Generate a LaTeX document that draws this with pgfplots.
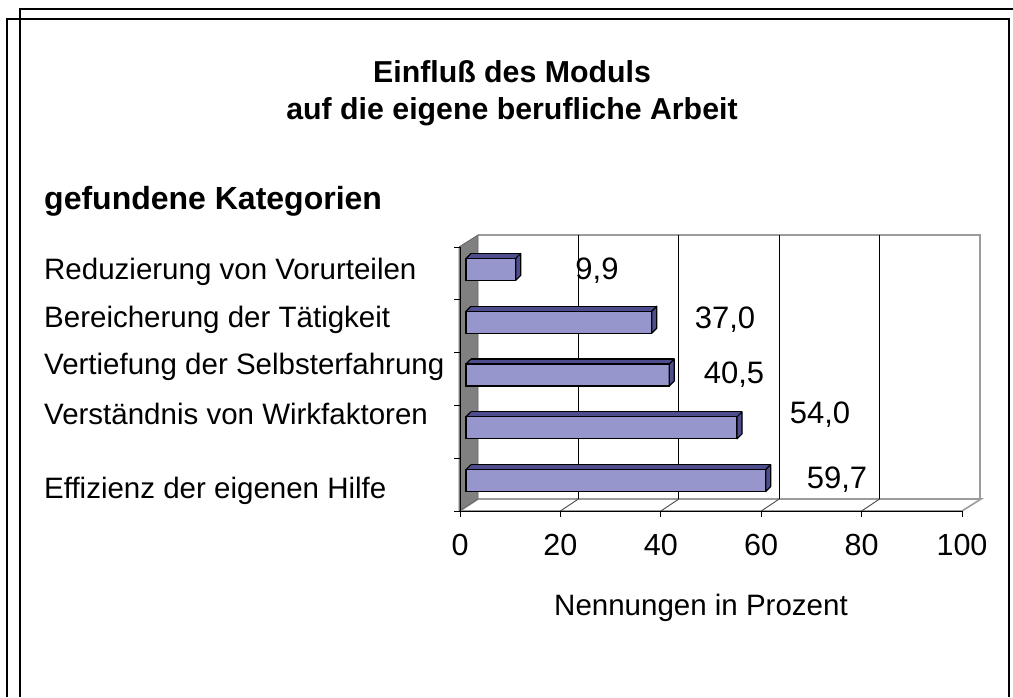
\documentclass[border=0pt]{standalone}
\usepackage{pgfplots}
\pgfplotsset{compat=1.18}
\usepackage{pgfplotstable}
\usepackage{fontspec}
\setmainfont{Liberation Sans}
\definecolor{barfront}{RGB}{150,150,204}
\definecolor{barside}{RGB}{78,78,142}
\definecolor{wallgray}{RGB}{128,128,128}
\definecolor{edgegray}{RGB}{155,155,155}
\newcommand\fa{\fontsize{29.5}{34}\selectfont}
\newcommand\fv{\fontsize{31}{36}\selectfont}

\pgfplotstableread{
idx val zero
1 59.7 0
2 54.0 0
3 40.5 0
4 37.0 0
5 9.9 0
}\bardata

\pgfdeclareplotmark{rface}{%
  \pgfpathmoveto{\pgfpoint{0pt}{-11pt}}%
  \pgfpathlineto{\pgfpoint{5pt}{-6pt}}%
  \pgfpathlineto{\pgfpoint{5pt}{16pt}}%
  \pgfpathlineto{\pgfpoint{0pt}{11pt}}%
  \pgfpathclose
  \pgfusepathqfillstroke}
\pgfdeclareplotmark{tldiag}{%
  \pgfpathmoveto{\pgfpoint{0pt}{11pt}}%
  \pgfpathlineto{\pgfpoint{5pt}{16pt}}%
  \pgfusepathqstroke}

\begin{document}
\begin{tikzpicture}
\path[use as bounding box] (0pt,0pt) rectangle (1013pt,-697pt);
\begin{scope}[x=1pt,y=-1pt]
  % outer frame
  \draw[black, line width=1.3pt] (20,697) -- (20,9) -- (1013,9);
  \draw[black, line width=1.3pt] (7,697) -- (7,19) -- (1009,19) -- (1009,697);
  % titles
  \node[anchor=base, font=\bfseries\fontsize{30.3}{36}\selectfont] at (512,82) {Einfluß des Moduls};
  \node[anchor=base, font=\bfseries\fontsize{30.3}{36}\selectfont] at (512,119) {auf die eigene berufliche Arbeit};
  \node[anchor=base west, inner sep=0pt, font=\bfseries\fontsize{32}{36}\selectfont] at (44,209) {gefundene Kategorien};
  % category labels
  \node[anchor=base west, inner sep=0pt, font=\fa] at (44,279) {Reduzierung von Vorurteilen};
  \node[anchor=base west, inner sep=0pt, font=\fa] at (44,327) {Bereicherung der Tätigkeit};
  \node[anchor=base west, inner sep=0pt, font=\fa] at (44,374) {Vertiefung der Selbsterfahrung};
  \node[anchor=base west, inner sep=0pt, font=\fa] at (44,424) {Verständnis von Wirkfaktoren};
  \node[anchor=base west, inner sep=0pt, font=\fa] at (44,498) {Effizienz der eigenen Hilfe};
  % back wall
  \fill[white] (478,235) rectangle (980,499);
  \draw[edgegray, line width=1.5pt] (478,235) -- (980,235) -- (980,499);
  % floor
  \filldraw[fill=white, draw=edgegray, line width=1.6pt] (460,511) -- (962,511) -- (981,499) -- (478,499) -- cycle;
  % left wall
  \filldraw[fill=wallgray, draw=black!60, line width=0.8pt] (459,511) -- (459,247) -- (478,235) -- (478,499) -- cycle;
  % grid lines on back wall
  \foreach \k in {1,2,3,4} {
    \draw[black, line width=1pt] ({478+100.4*\k},235) -- ({478+100.4*\k},499);
    \draw[black!70, line width=0.9pt] ({460+100.4*\k},511) -- ({478+100.4*\k},499);
  }
\end{scope}

% front plane axis: ticks and tick labels
\begin{axis}[
  at={(460pt,-511pt)}, anchor=south west,
  scale only axis, width=502pt, height=264pt,
  xmin=0, xmax=100, ymin=0.5, ymax=5.5,
  axis x line*=bottom, axis y line*=left,
  axis line style={-, line width=1pt, black},
  xtick={0,20,...,100}, ytick={0.5,1.5,...,5.5}, yticklabels={},
  tick align=outside, major tick length=6pt,
  tick style={black, line width=1pt},
  xticklabel style={font=\fontsize{30.5}{36}\selectfont, yshift=-14pt},
  /pgf/number format/assume math mode=true,
]
\end{axis}

% bar plane axis
\begin{axis}[
  at={(466pt,-507pt)}, anchor=south west,
  scale only axis, width=502pt, height=264pt,
  xmin=0, xmax=100, ymin=0.5, ymax=5.5,
  hide axis, clip=false,
]
\pgfplotsinvokeforeach{1,...,8}{%
  \addplot[xbar, bar width=22pt, fill=barside, draw=none,
           xshift=#1*0.625pt, yshift=#1*0.625pt] table[x=val, y=idx] {\bardata};
}
\addplot[xbar, bar width=0pt, bar shift=11pt, fill=none, draw=black, line width=1.2pt,
         xshift=5pt, yshift=5pt] table[x=val, y=idx] {\bardata};
\addplot[xbar, bar width=22pt, fill=barfront, draw=black, line width=1.2pt]
  table[x=val, y=idx] {\bardata};
\addplot[only marks, mark=rface, mark options={draw=black, fill=barside, line width=1.2pt, solid, line join=round}]
  table[x=val, y=idx] {\bardata};
\addplot[only marks, mark=tldiag, mark options={draw=black, line width=1.2pt, solid}]
  table[x=zero, y=idx] {\bardata};
\end{axis}

\begin{scope}[x=1pt,y=-1pt]
  % value labels
  \node[anchor=base, inner sep=0pt, font=\fv] at (597,279) {9,9};
  \node[anchor=base, inner sep=0pt, font=\fv] at (725,328) {37,0};
  \node[anchor=base, inner sep=0pt, font=\fv] at (734,383) {40,5};
  \node[anchor=base, inner sep=0pt, font=\fv] at (820,423) {54,0};
  \node[anchor=base, inner sep=0pt, font=\fv] at (837,488) {59,7};
  % axis title
  \node[anchor=base, inner sep=0pt, font=\fa] at (701,615) {Nennungen in Prozent};
\end{scope}
\end{tikzpicture}
\end{document}
